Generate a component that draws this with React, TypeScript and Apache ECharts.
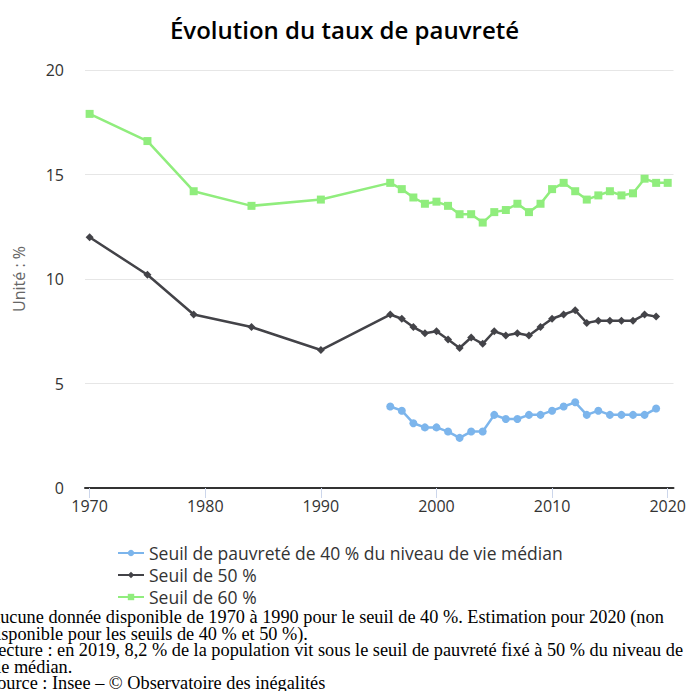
import React, { useEffect, useRef } from "react";
import * as echarts from "echarts";

const title = "Évolution du taux de pauvreté";
const yAxisName = "Unité : %";
const years40 = [1996, 1997, 1998, 1999, 2000, 2001, 2002, 2003, 2004, 2005, 2006, 2007, 2008, 2009, 2010, 2011, 2012, 2013, 2014, 2015, 2016, 2017, 2018, 2019];
const values40 = [3.9, 3.7, 3.1, 2.9, 2.9, 2.7, 2.4, 2.7, 2.7, 3.5, 3.3, 3.3, 3.5, 3.5, 3.7, 3.9, 4.1, 3.5, 3.7, 3.5, 3.5, 3.5, 3.5, 3.8];
const years50 = [1970, 1975, 1979, 1984, 1990, 1996, 1997, 1998, 1999, 2000, 2001, 2002, 2003, 2004, 2005, 2006, 2007, 2008, 2009, 2010, 2011, 2012, 2013, 2014, 2015, 2016, 2017, 2018, 2019];
const values50 = [12.0, 10.2, 8.3, 7.7, 6.6, 8.3, 8.1, 7.7, 7.4, 7.5, 7.1, 6.7, 7.2, 6.9, 7.5, 7.3, 7.4, 7.3, 7.7, 8.1, 8.3, 8.5, 7.9, 8.0, 8.0, 8.0, 8.0, 8.3, 8.2];
const years60 = [1970, 1975, 1979, 1984, 1990, 1996, 1997, 1998, 1999, 2000, 2001, 2002, 2003, 2004, 2005, 2006, 2007, 2008, 2009, 2010, 2011, 2012, 2013, 2014, 2015, 2016, 2017, 2018, 2019, 2020];
const values60 = [17.9, 16.6, 14.2, 13.5, 13.8, 14.6, 14.3, 13.9, 13.6, 13.7, 13.5, 13.1, 13.1, 12.7, 13.2, 13.3, 13.6, 13.2, 13.6, 14.3, 14.6, 14.2, 13.8, 14.0, 14.2, 14.0, 14.1, 14.8, 14.6, 14.6];
const seriesNames = ["Seuil de pauvreté de 40 % du niveau de vie médian", "Seuil de 50 %", "Seuil de 60 %"];
const xTicks = [1970, 1980, 1990, 2000, 2010, 2020];
const footnoteLines = [
  "Aucune donnée disponible de 1970 à 1990 pour le seuil de 40 %. Estimation pour 2020 (non",
  "disponible pour les seuils de 40 % et 50 %).",
  "Lecture : en 2019, 8,2 % de la population vit sous le seuil de pauvreté fixé à 50 % du niveau de",
  "vie médian.",
  "Source : Insee – © Observatoire des inégalités",
];

const zip = (xs: number[], ys: number[]) => xs.map((x, i) => [x, ys[i]]);

export default function App() {
  const ref = useRef<HTMLDivElement>(null);
  useEffect(() => {
    if (!ref.current) return;
    const chart = echarts.init(ref.current, null, { renderer: "svg" });
    const sans = "Open Sans";
    chart.setOption({
      animation: false,
      title: {
        text: title,
        left: "center",
        top: 12,
        textStyle: { fontFamily: sans, fontSize: 24, fontWeight: 600, color: "#000" },
      },
      grid: { left: 85, right: 3, top: 70, bottom: 203, containLabel: false },
      legend: {
        orient: "vertical",
        left: 112,
        top: 539,
        itemWidth: 26,
        itemHeight: 8,
        itemGap: 4,
        textStyle: { fontFamily: sans, fontSize: 17.5, color: "#333" },
        data: seriesNames,
      },
      xAxis: {
        type: "value",
        min: 1969.6,
        max: 2020.5,
        axisLine: { show: true, lineStyle: { color: "#333", width: 2 } },
        axisTick: { show: true, customValues: xTicks, length: 10, lineStyle: { color: "#ccd6eb" } },
        axisLabel: {
          customValues: xTicks,
          formatter: (v: number) => String(v),
          fontFamily: sans,
          fontSize: 16,
          color: "#333",
          margin: 10,
        },
        splitLine: { show: false },
      },
      yAxis: {
        type: "value",
        min: 0,
        max: 20,
        interval: 5,
        name: yAxisName,
        nameLocation: "middle",
        nameGap: 58,
        nameTextStyle: { fontFamily: sans, fontSize: 16, color: "#666" },
        axisLine: { show: false },
        axisTick: { show: false },
        axisLabel: { fontFamily: sans, fontSize: 16, color: "#333", margin: 21 },
        splitLine: { lineStyle: { color: "#e6e6e6" } },
      },
      series: [
        {
          name: seriesNames[0],
          type: "line",
          data: zip(years40, values40),
          color: "#7cb5ec",
          symbol: "circle",
          symbolSize: 8,
          lineStyle: { width: 2.5 },
        },
        {
          name: seriesNames[1],
          type: "line",
          data: zip(years50, values50),
          color: "#434348",
          symbol: "diamond",
          symbolSize: 8,
          lineStyle: { width: 2.5 },
        },
        {
          name: seriesNames[2],
          type: "line",
          data: zip(years60, values60),
          color: "#90ed7d",
          symbol: "rect",
          symbolSize: 8,
          lineStyle: { width: 2.5 },
        },
      ],
      graphic: [
        {
          type: "text",
          left: -13,
          top: 608,
          style: {
            text: footnoteLines.join("\n"),
            fontFamily: "Liberation Serif",
            fontSize: 18.3,
            lineHeight: 16.6,
            fill: "#000",
          },
        },
      ],
    });
    return () => chart.dispose();
  }, []);
  return <div ref={ref} style={{ width: 689, height: 691, position: "absolute", left: 0, top: 0 }} />;
}
